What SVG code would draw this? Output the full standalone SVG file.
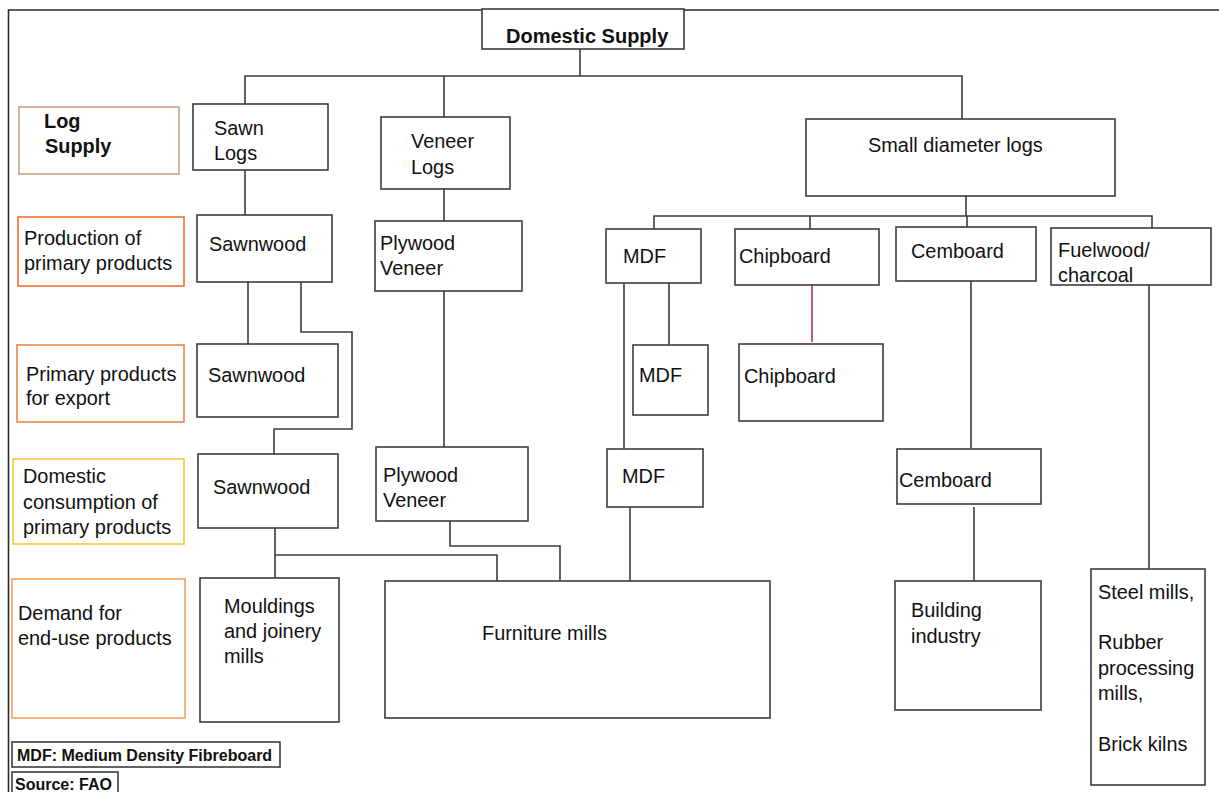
<svg xmlns="http://www.w3.org/2000/svg" width="1219" height="792" viewBox="0 0 1219 792">
  <style>
    .box { fill: #ffffff; stroke: #3c3c3c; stroke-width: 1.6; }
    .lbl { fill: #ffffff; stroke-width: 1.6; }
    .t { font-family: "Liberation Sans", Arial, sans-serif; font-size: 19.9px; fill: #111111; }
    .b { font-weight: bold; }
    .note { font-family: "Liberation Sans", Arial, sans-serif; font-size: 16px; font-weight: bold; fill: #111111; }
    .wire { fill: none; stroke: #3c3c3c; stroke-width: 1.6; }
  </style>
  <rect width="1219" height="792" fill="#ffffff"/>

  <!-- page frame -->
  <path d="M8.5 792 V10 H1219" fill="none" stroke="#2a2a2a" stroke-width="1.6"/>

  <!-- connectors -->
  <g id="connectors">
    <path class="wire" d="M580 49 V76 M245 104 V76 H962 V119 M444 76 V117"/>
    <path class="wire" d="M245 170 V215"/>
    <path class="wire" d="M444 189 V221 M444 291 V447"/>
    <path class="wire" d="M966 196 V216 M654 229 V216 H1152 V228 M810 216 V229 M967 216 V227"/>
    <path class="wire" d="M248 282 V344"/>
    <path class="wire" d="M301 282 V332 H352 V429 H274 V454"/>
    <path class="wire" d="M624 283 V449 M669 283 V345"/>
    <path fill="none" stroke="#a03a48" stroke-width="1.6" d="M812 285 V342"/>
    <path class="wire" d="M971 281 V448"/>
    <path class="wire" d="M1149 285 V569"/>
    <path class="wire" d="M275 528 V578 M275 555 H497 V581"/>
    <path class="wire" d="M450 521 V546 H560 V581"/>
    <path class="wire" d="M630 507 V581"/>
    <path class="wire" d="M974 507 V581"/>
  </g>

  <!-- level labels -->
  <g id="label-log-supply">
    <rect class="lbl" x="19" y="107" width="160" height="67" stroke="#d4a080"/>
    <text class="t b" x="44" y="128">Log</text>
    <text class="t b" x="45" y="153">Supply</text>
  </g>
  <g id="label-production">
    <rect class="lbl" x="18" y="217" width="166" height="69" stroke="#f07030"/>
    <text class="t" x="24" y="245">Production of</text>
    <text class="t" x="24" y="270">primary products</text>
  </g>
  <g id="label-export">
    <rect class="lbl" x="17" y="345" width="167" height="77" stroke="#e8884a"/>
    <text class="t" x="26" y="381">Primary products</text>
    <text class="t" x="26" y="405">for export</text>
  </g>
  <g id="label-domestic">
    <rect class="lbl" x="13" y="459" width="171" height="85" stroke="#f5c842"/>
    <text class="t" x="23" y="483">Domestic</text>
    <text class="t" x="23" y="509">consumption of</text>
    <text class="t" x="23" y="534">primary products</text>
  </g>
  <g id="label-demand">
    <rect class="lbl" x="12" y="579" width="173" height="139" stroke="#f8a060"/>
    <text class="t" x="18" y="620">Demand for</text>
    <text class="t" x="18" y="645">end-use products</text>
  </g>

  <!-- root -->
  <g id="domestic-supply">
    <rect class="box" x="482" y="9" width="202" height="40"/>
    <text class="t b" x="506" y="43" style="font-size:20px">Domestic Supply</text>
  </g>

  <!-- log supply -->
  <g id="sawn-logs">
    <rect class="box" x="193" y="104" width="135" height="66"/>
    <text class="t" x="214" y="135">Sawn</text>
    <text class="t" x="214" y="160">Logs</text>
  </g>
  <g id="veneer-logs">
    <rect class="box" x="381" y="117" width="129" height="72"/>
    <text class="t" x="411" y="148">Veneer</text>
    <text class="t" x="411" y="174">Logs</text>
  </g>
  <g id="small-diameter-logs">
    <rect class="box" x="806" y="119" width="309" height="77"/>
    <text class="t" x="868" y="152">Small diameter logs</text>
  </g>

  <!-- primary products -->
  <g id="sawnwood-production">
    <rect class="box" x="197" y="215" width="135" height="67"/>
    <text class="t" x="209" y="251">Sawnwood</text>
  </g>
  <g id="plywood-production">
    <rect class="box" x="375" y="221" width="147" height="70"/>
    <text class="t" x="380" y="250">Plywood</text>
    <text class="t" x="380" y="275">Veneer</text>
  </g>
  <g id="mdf-production">
    <rect class="box" x="606" y="229" width="95" height="54"/>
    <text class="t" x="623" y="263">MDF</text>
  </g>
  <g id="chipboard-production">
    <rect class="box" x="735" y="229" width="144" height="56"/>
    <text class="t" x="739" y="263">Chipboard</text>
  </g>
  <g id="cemboard-production">
    <rect class="box" x="896" y="227" width="140" height="54"/>
    <text class="t" x="911" y="258">Cemboard</text>
  </g>
  <g id="fuelwood-production">
    <rect class="box" x="1051" y="228" width="160" height="57"/>
    <text class="t" x="1058" y="257">Fuelwood/</text>
    <text class="t" x="1058" y="282">charcoal</text>
  </g>

  <!-- export -->
  <g id="sawnwood-export">
    <rect class="box" x="197" y="344" width="141" height="73"/>
    <text class="t" x="208" y="382">Sawnwood</text>
  </g>
  <g id="mdf-export">
    <rect class="box" x="633" y="345" width="75" height="70"/>
    <text class="t" x="639" y="382">MDF</text>
  </g>
  <g id="chipboard-export">
    <rect class="box" x="739" y="344" width="144" height="77"/>
    <text class="t" x="744" y="383">Chipboard</text>
  </g>

  <!-- domestic consumption -->
  <g id="sawnwood-domestic">
    <rect class="box" x="198" y="454" width="140" height="74"/>
    <text class="t" x="213" y="494">Sawnwood</text>
  </g>
  <g id="plywood-domestic">
    <rect class="box" x="376" y="447" width="152" height="74"/>
    <text class="t" x="383" y="482">Plywood</text>
    <text class="t" x="383" y="507">Veneer</text>
  </g>
  <g id="mdf-domestic">
    <rect class="box" x="607" y="449" width="96" height="58"/>
    <text class="t" x="622" y="483">MDF</text>
  </g>
  <g id="cemboard-domestic">
    <rect class="box" x="897" y="449" width="144" height="55"/>
    <text class="t" x="899" y="487">Cemboard</text>
  </g>

  <!-- end-use demand -->
  <g id="mouldings-joinery">
    <rect class="box" x="200" y="578" width="139" height="144"/>
    <text class="t" x="224" y="613">Mouldings</text>
    <text class="t" x="224" y="638">and joinery</text>
    <text class="t" x="224" y="663">mills</text>
  </g>
  <g id="furniture-mills">
    <rect class="box" x="385" y="581" width="385" height="137"/>
    <text class="t" x="482" y="640">Furniture mills</text>
  </g>
  <g id="building-industry">
    <rect class="box" x="895" y="581" width="146" height="129"/>
    <text class="t" x="911" y="617">Building</text>
    <text class="t" x="911" y="643">industry</text>
  </g>
  <g id="fuel-users">
    <rect class="box" x="1091" y="569" width="114" height="216"/>
    <text class="t" x="1098" y="599">Steel mills,</text>
    <text class="t" x="1098" y="649">Rubber</text>
    <text class="t" x="1098" y="675">processing</text>
    <text class="t" x="1098" y="700">mills,</text>
    <text class="t" x="1098" y="751">Brick kilns</text>
  </g>

  <!-- notes -->
  <g id="note-mdf">
    <rect class="box" x="12" y="742" width="268" height="25" stroke="#222" />
    <text class="note" x="17" y="761">MDF: Medium Density Fibreboard</text>
  </g>
  <g id="note-source">
    <rect class="box" x="12" y="772" width="106" height="24" stroke="#222"/>
    <text class="note" x="15" y="790">Source: FAO</text>
  </g>
</svg>
